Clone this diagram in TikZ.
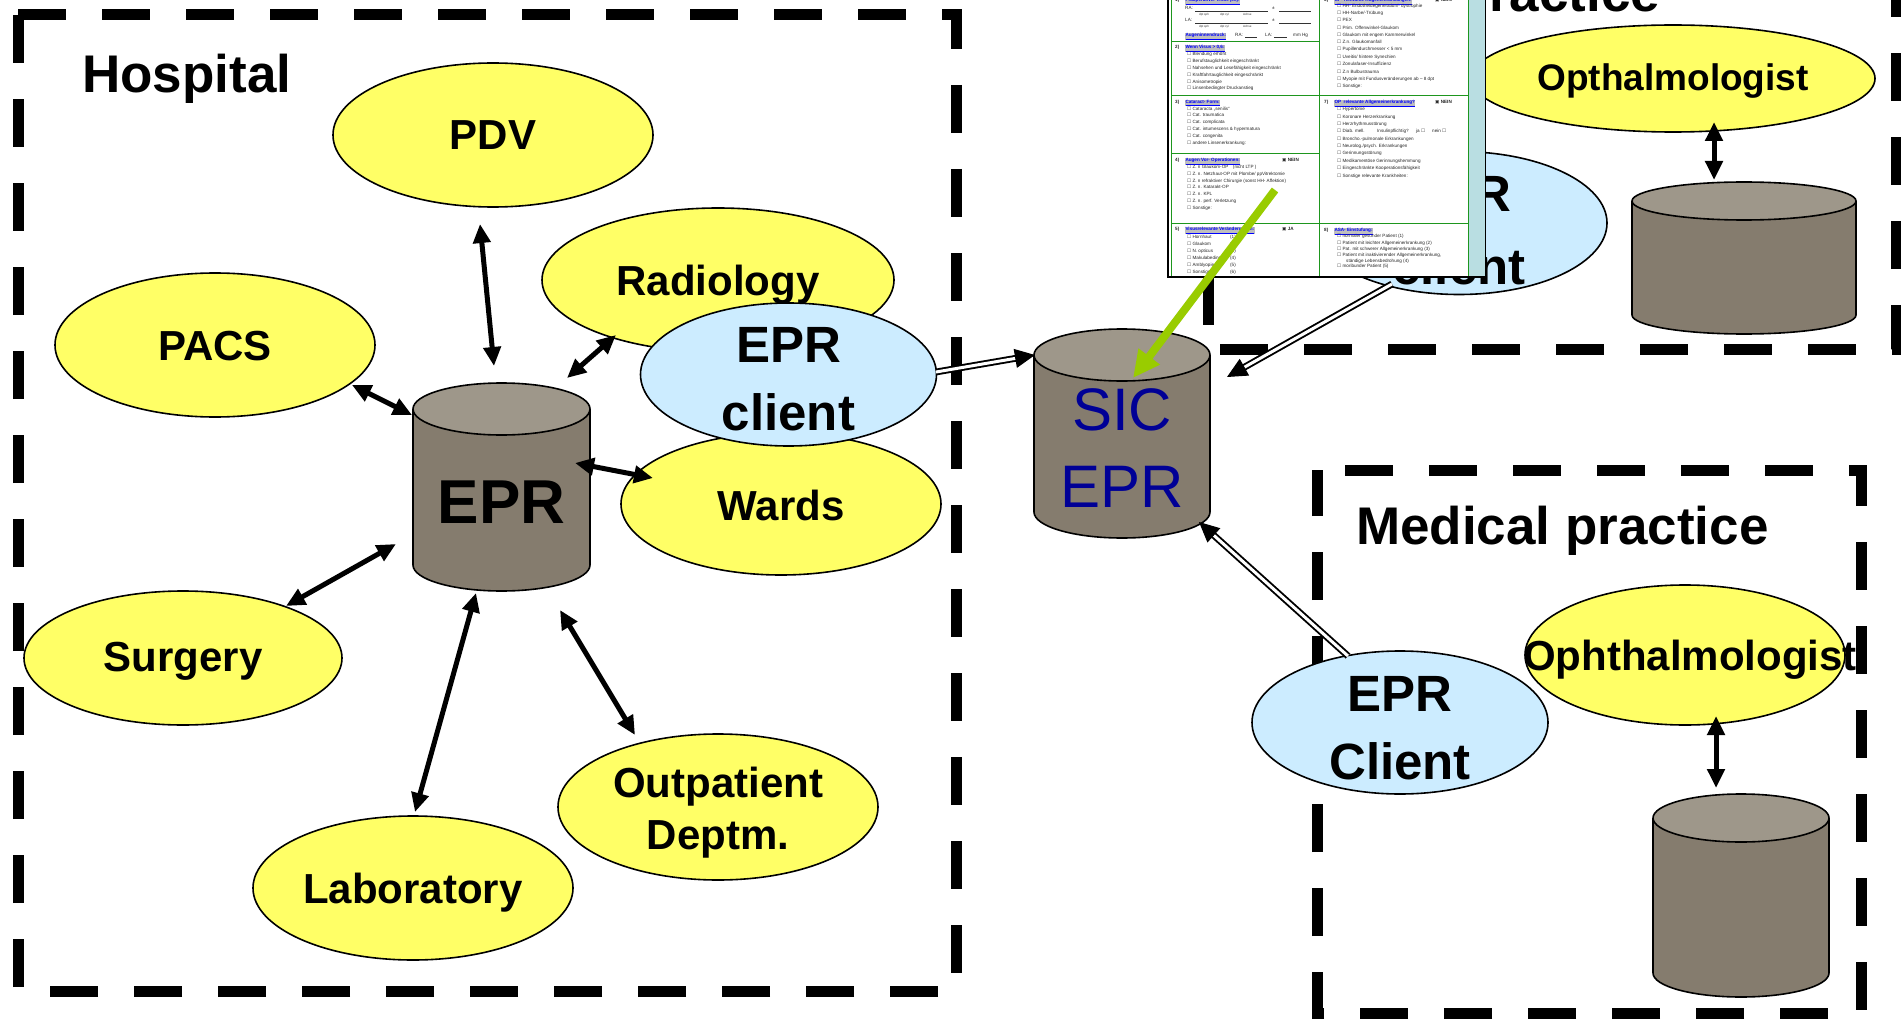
\documentclass[tikz,border=0pt]{standalone}
\usepackage{fontspec}
\setmainfont{Liberation Sans}
\newfontfamily\symfont{DejaVu Sans}
\usetikzlibrary{arrows.meta,shapes.geometric,calc}
\definecolor{yel}{RGB}{255,255,102}
\definecolor{lblue}{RGB}{204,236,255}
\definecolor{cylbody}{RGB}{133,124,110}
\definecolor{cyltop}{RGB}{158,151,138}
\definecolor{sicblue}{RGB}{0,0,150}
\definecolor{grn}{RGB}{153,204,0}
\definecolor{tablegreen}{RGB}{30,150,30}
\definecolor{formstrip}{RGB}{185,222,226}
\definecolor{hlgray}{RGB}{190,190,190}
\definecolor{formblue}{RGB}{0,0,255}
\newcount\fcnt
\newcommand\ftx[3]{\global\advance\fcnt by 1\relax\node[ftxt] (ft\the\fcnt) at (#1,#2) {#3};}
\newcommand\fsb[3]{\global\advance\fcnt by 1\relax\node[fsub] (ft\the\fcnt) at (#1,#2) {#3};}
\newcommand\fcb{{\symfont\char"2610\relax}}
\newcommand\fchk{{\symfont\char"25A3\relax}}
\newcommand\fhd[1]{{\setlength\fboxsep{0.3pt}\colorbox{hlgray}{\bfseries\color{formblue}\underline{#1}}}}
\newcommand\cylshape[6]{%
  \fill[cylbody] ({#2-#5},#3) -- ({#2-#5},#4) arc[start angle=180,end angle=360,x radius=#5pt,y radius=#6pt] -- ({#2+#5},#3) -- cycle;
  \draw[line width=1.6pt] ({#2-#5},#3) -- ({#2-#5},#4) arc[start angle=180,end angle=360,x radius=#5pt,y radius=#6pt] -- ({#2+#5},#3);
  \filldraw[fill=cyltop,line width=1.6pt] (#2,#3) ellipse[x radius=#5pt,y radius=#6pt];
  \coordinate (#1) at (#2,{(#3+#4)/2});
}
\begin{document}
\begin{tikzpicture}[x=1pt,y=-1pt,
  dashbox/.style={line width=11pt, dash pattern=on 48pt off 36pt},
  yell/.style={ellipse, draw, line width=1.6pt, fill=yel, inner sep=0pt, outer sep=0pt},
  blu/.style={ellipse, draw, line width=1.6pt, fill=lblue, inner sep=0pt, outer sep=0pt},
  lbl/.style={anchor=base, inner sep=0pt, font=\fontsize{42}{50}\selectfont\bfseries},
  clbl/.style={anchor=base, inner sep=0pt, font=\fontsize{51}{60}\selectfont\bfseries},
  sicl/.style={anchor=base, inner sep=0pt, text=sicblue, font=\fontsize{60}{70}\selectfont},
  ttl/.style={anchor=base west, inner sep=0pt, font=\fontsize{53}{62}\selectfont\bfseries},
  biarrow/.style={<->, >={Triangle[length=19pt,width=17pt]}, line width=5pt},
  dblline/.style={double=white, double distance=3pt, line width=1.9pt},
  dbltip/.style={->, >={Triangle[length=20pt,width=19pt]}, line width=1pt},
  grnarrow/.style={->, >={Triangle[length=27pt,width=25pt]}, line width=8pt, draw=grn, fill=grn},
  ftxt/.style={anchor=base west, inner sep=0pt, font=\fontsize{4.6}{5}\selectfont, text=black!85},
  fsub/.style={anchor=base west, inner sep=0pt, font=\fontsize{3}{3.5}\selectfont, text=black!80},
  fline/.style={line width=0.4pt, black!80},
  tgrid/.style={line width=1pt, draw=tablegreen},
]
\useasboundingbox (0,0) rectangle (1901,1019);
\clip (0,0) rectangle (1901,1019);
\fill[white] (0,0) rectangle (1901,1019);

% ---------- dashed boxes ----------
\draw[dashbox] (18,15) -- (956,15) -- (956,991) -- (18,991) -- cycle;
\draw[dashbox] (1208,-59) -- (1208,349) -- (1896,349) -- (1896,-100);

% ---------- titles ----------
\node[ttl] (hosp) at (82,93) {Hospital};
\node[ttl] (medp2) at (1489,12) {ractice};

% ---------- top right practice ----------
\node[yell, minimum width=404pt, minimum height=107pt] (oph1) at (1673,78.5) {};
\node[anchor=base, inner sep=0pt, font=\fontsize{37}{44}\selectfont\bfseries] (oph1-t) at (1673,91) {Opthalmologist};
\cylshape{db1}{1744}{201}{315}{112}{19}
\coordinate (t1a) at (1714,122); \coordinate (t1b) at (1714,180);
\draw[biarrow] (t1a) -- (t1b);
\node[blu, minimum width=296pt, minimum height=143pt] (eprc2) at (1459,223) {};
\node[clbl] (eprc2-t1) at (1459,212) {EPR};
\node[clbl] (eprc2-t2) at (1459,284) {client};

% ---------- hospital ----------
\node[yell, minimum width=320pt, minimum height=144pt] (pdv) at (493,135) {};
\node[yell, minimum width=320pt, minimum height=144pt] (pacs) at (215,345) {};
\node[yell, minimum width=352pt, minimum height=144pt] (rad) at (718,280) {};
\node[yell, minimum width=320pt, minimum height=142pt] (wards) at (781,504) {};
\node[yell, minimum width=318pt, minimum height=134pt] (surg) at (183,658) {};
\node[yell, minimum width=320pt, minimum height=146pt] (outp) at (718,807) {};
\node[yell, minimum width=320pt, minimum height=144pt] (lab) at (413,888) {};
\node[lbl] (pdv-t) at (493,150) {PDV};
\node[lbl] (pacs-t) at (215,360) {PACS};
\node[lbl] (rad-t) at (718,295) {Radiology};
\node[lbl] (wards-t) at (781,520) {Wards};
\node[lbl] (surg-t) at (183,671) {Surgery};
\node[lbl] (outp-t1) at (718,797) {Outpatient};
\node[lbl] (outp-t2) at (718,849) {Deptm.};
\node[lbl] (lab-t) at (413,903) {Laboratory};

\cylshape{epr}{501.5}{409}{565}{88.5}{26}
\node[anchor=base, inner sep=0pt, font=\fontsize{62}{70}\selectfont\bfseries] (epr-t) at (501.5,523) {EPR};

\node[blu, minimum width=296pt, minimum height=143pt] (eprc) at (788.5,374.5) {};
\node[clbl] (eprc-t1) at (788.5,362) {EPR};
\node[clbl] (eprc-t2) at (788.5,430) {client};

\coordinate (h1a) at (480,224); \coordinate (h1b) at (494,366);
\coordinate (h2a) at (616,335); \coordinate (h2b) at (567,378);
\coordinate (h3a) at (352,385); \coordinate (h3b) at (412,415);
\coordinate (h4a) at (575,463); \coordinate (h4b) at (653,478);
\coordinate (h5a) at (286,606); \coordinate (h5b) at (396,544);
\coordinate (h6a) at (415,812); \coordinate (h6b) at (476,593);
\coordinate (h7a) at (560,610); \coordinate (h7b) at (635,735);
\foreach \i in {1,...,7} {\draw[biarrow] (h\i a) -- (h\i b);}

% ---------- SIC EPR ----------
\cylshape{sic}{1122}{355}{512}{88}{26}
\node[sicl] (sic-t1) at (1122,430) {SIC};
\node[sicl] (sic-t2) at (1122,507) {EPR};

% ---------- medical practice ----------
\node[yell, minimum width=320pt, minimum height=140pt] (oph2) at (1685,655) {};
\node[lbl] (oph2-t) at (1690,670) {Ophthalmologist};
\draw[dashbox, dash phase=56pt] (1317,470) -- (1861,470) -- (1861,1013) -- (1317,1013) -- cycle;
\node[ttl] (medp) at (1356,544) {Medical practice};
\cylshape{db2}{1741}{818}{973}{88}{24}
\coordinate (m1a) at (1716,716); \coordinate (m1b) at (1716,788);
\draw[biarrow] (m1a) -- (m1b);
\node[blu, minimum width=296pt, minimum height=143pt] (eprc3) at (1400,722.5) {};
\node[clbl] (eprc3-t1) at (1400,711) {EPR};
\node[clbl] (eprc3-t2) at (1400,779) {Client};

% ---------- double-line arrows to SIC EPR ----------
\coordinate (sa1) at (936,372); \coordinate (sa2) at (1035,355);
\coordinate (sb1) at (1392,284); \coordinate (sb2) at (1227,377);
\coordinate (sc1) at (1348,656); \coordinate (sc2) at (1199,522);
\foreach \p in {sa,sb,sc} {
  \draw[dblline] (\p1) -- ($(\p2)!17pt!(\p1)$);
  \draw[dbltip] ($(\p2)!19pt!(\p1)$) -- (\p2);
}

% ---------- form image ----------
\fill[white] (1168,-10) rectangle (1468,277);
\fill[formstrip] (1468,-10) rectangle (1485,277);
\draw[tgrid] (1171,-10) -- (1171,276) -- (1468,276) -- (1468,-10);
\draw[tgrid] (1319,-10) -- (1319,276);
\foreach \yy in {42,96,154,224} {\draw[tgrid] (1171,\yy) -- (1319,\yy);}
\foreach \yy in {96,224} {\draw[tgrid] (1319,\yy) -- (1468,\yy);}
\draw[line width=2.2pt] (1168,-10) -- (1168,277) -- (1485,277);
\draw[line width=1pt] (1485,277) -- (1485,-10);

% left column
\ftx{1175}{2}{\bfseries 1)}
\ftx{1185}{2}{\fhd{Präoperativer Visus (cc):}}
\ftx{1185}{10}{RA:}
\draw[fline] (1195,11) -- (1268,11); \draw[fline] (1279,11) -- (1311,11);
\ftx{1272}{10}{±}
\fsb{1199}{15.5}{dpt sph} \fsb{1220}{15.5}{dpt cyl} \fsb{1243}{15.5}{Achse}
\ftx{1185}{22}{LA:}
\draw[fline] (1195,23) -- (1268,23); \draw[fline] (1279,23) -- (1311,23);
\ftx{1272}{22}{±}
\fsb{1199}{28}{dpt sph} \fsb{1220}{28}{dpt cyl} \fsb{1243}{28}{Achse}
\ftx{1185}{37}{\fhd{Augeninnendruck:}}
\ftx{1235}{37}{RA:}
\draw[fline] (1245,37.5) -- (1257,37.5);
\ftx{1265}{37}{LA:}
\draw[fline] (1274,37.5) -- (1287,37.5);
\ftx{1293}{37}{mm Hg}

\ftx{1175}{49}{\bfseries 2)}
\ftx{1185}{49}{\fhd{Wenn Visus > 0,6:}}
\ftx{1187}{56}{\fcb\ Blendung erhöht}
\ftx{1187}{63}{\fcb\ Berufstauglichkeit eingeschränkt}
\ftx{1187}{70}{\fcb\ Nahsehen und Lesefähigkeit eingeschränkt}
\ftx{1187}{77}{\fcb\ Kraftfahrtauglichkeit eingeschränkt}
\ftx{1187}{84}{\fcb\ Anisometropie}
\ftx{1187}{90}{\fcb\ Linsenbedingter Druckanstieg}

\ftx{1175}{104}{\bfseries 3)}
\ftx{1185}{104}{\fhd{Cataract- Form:}}
\ftx{1187}{111}{\fcb\ Cataracta „senilis“}
\ftx{1187}{117}{\fcb\ Cat. traumatica}
\ftx{1187}{124}{\fcb\ Cat. complicata}
\ftx{1187}{131}{\fcb\ Cat. intumescens \& hypermatura}
\ftx{1187}{138}{\fcb\ Cat. congenita}
\ftx{1187}{145}{\fcb\ andere Linsenerkrankung:}

\ftx{1175}{162}{\bfseries 4)}
\ftx{1185}{162}{\fhd{Augen Vor- Operationen:}}
\ftx{1282}{162}{\fchk\ \bfseries NEIN}
\ftx{1187}{169}{\fcb\ Z. n Glaukom-OP\quad (nicht LTP )}
\ftx{1187}{176}{\fcb\ Z. n. Netzhaut-OP mit Plombe/ ppVitrektomie}
\ftx{1187}{183}{\fcb\ Z. n refraktiver Chirurgie (sonst HH- Affektion)}
\ftx{1187}{189}{\fcb\ Z. n. Katarakt-OP}
\ftx{1187}{196}{\fcb\ Z. n. KPL}
\ftx{1187}{203}{\fcb\ Z. n. perf. Verletzung}
\ftx{1187}{210}{\fcb\ Sonstige:}

\ftx{1175}{231}{\bfseries 5)}
\ftx{1185}{231}{\fhd{Visusrelevante Veränderungen:}}
\ftx{1282}{231}{\fchk\ \bfseries JA}
\ftx{1187}{239}{\fcb\ Hornhaut} \ftx{1230}{239}{(1)}
\ftx{1187}{245}{\fcb\ Glaukom} \ftx{1230}{245}{(2)}
\ftx{1187}{252}{\fcb\ N. opticus} \ftx{1230}{252}{(3)}
\ftx{1187}{259}{\fcb\ Makulabedingt} \ftx{1230}{259}{(4)}
\ftx{1187}{266}{\fcb\ Amblyopie} \ftx{1230}{266}{(5)}
\ftx{1187}{273}{\fcb\ Sonstige} \ftx{1230}{273}{(6)}

% right column
\ftx{1324}{2}{\bfseries 6)}
\ftx{1334}{2}{\fhd{OP- relevante Augenerkrankungen:}}
\ftx{1435}{2}{\fchk\ \bfseries NEIN}
\ftx{1337}{8}{\fcb\ HH- Endotheldegeneration/- dystrophie}
\ftx{1337}{15}{\fcb\ HH-Narbe/-Trübung}
\ftx{1337}{22}{\fcb\ PEX}
\ftx{1337}{30}{\fcb\ Prim. Offenwinkel-Glaukom}
\ftx{1337}{37}{\fcb\ Glaukom mit engem Kammerwinkel}
\ftx{1337}{44}{\fcb\ Z.n. Glaukomanfall}
\ftx{1337}{51}{\fcb\ Pupillendurchmesser < 5 mm}
\ftx{1337}{59}{\fcb\ Uveitis/ hintere Synechien}
\ftx{1337}{66}{\fcb\ Zonulafaser-Insuffizienz}
\ftx{1337}{74}{\fcb\ Z.n Bulbustrauma}
\ftx{1337}{81}{\fcb\ Myopie mit Fundusveränderungen ab – 8 dpt}
\ftx{1337}{88}{\fcb\ Sonstige:}

\ftx{1324}{104}{\bfseries 7)}
\ftx{1334}{104}{\fhd{OP\ \ relevante Allgemeinerkrankung?}}
\ftx{1435}{104}{\fchk\ \bfseries NEIN}
\ftx{1337}{111}{\fcb\ Hypertonie}
\ftx{1337}{119}{\fcb\ Koronare Herzerkrankung}
\ftx{1337}{126}{\fcb\ Herzrhythmusstörung}
\ftx{1337}{133}{\fcb\ Diab. mell.}
\ftx{1377}{133}{Insulinpflichtig?}
\ftx{1416}{133}{ja \fcb}
\ftx{1432}{133}{nein \fcb}
\ftx{1337}{141}{\fcb\ Broncho.-pulmonale Erkrankungen}
\ftx{1337}{148}{\fcb\ Neurolog./psych. Erkrankungen}
\ftx{1337}{155}{\fcb\ Gerinnungsstörung}
\ftx{1337}{163}{\fcb\ Medikamentöse Gerinnungshemmung}
\ftx{1337}{170}{\fcb\ Eingeschränkte Kooperationsfähigkeit}
\ftx{1337}{178}{\fcb\ Sonstige relevante Krankheiten:}

\ftx{1324}{232}{\bfseries 8)}
\ftx{1334}{232}{\fhd{ASA- Einstufung:}}
\ftx{1337}{238}{\fcb\ normaler gesunder Patient (1)}
\ftx{1337}{244}{\fcb\ Patient mit leichter Allgemeinerkrankung (2)}
\ftx{1337}{251}{\fcb\ Pat. mit schwerer Allgemeinerkrankung (3)}
\ftx{1337}{257}{\fcb\ Patient mit inaktivierender Allgemeinerkrankung,}
\ftx{1346}{262}{ständige Lebensbedrohung (4)}
\ftx{1337}{268}{\fcb\ moribunder Patient (5)}

% ---------- green arrow ----------
\coordinate (g1) at (1275,190); \coordinate (g2) at (1133,378);
\draw[grnarrow] (g1) -- (g2);
\end{tikzpicture}
\end{document}
